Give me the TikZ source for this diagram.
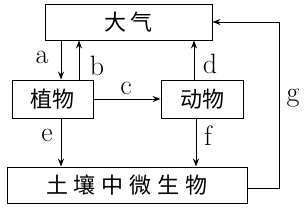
\documentclass[tikz,border=0pt]{standalone}
\usepackage{fontspec}
\newfontfamily\cjk{Noto Sans CJK SC}
\usetikzlibrary{arrows.meta}
\newcommand{\gp}{\hspace{6pt}}
\begin{document}
\begin{tikzpicture}[x=1pt,y=-1pt,
  box/.style={draw,line width=0.9pt,inner sep=0pt,font=\cjk\fontsize{22}{22}\selectfont},
  conn/.style={line width=0.9pt,-{Stealth[length=8pt,width=6pt]}},
  lbl/.style={font=\fontsize{28}{28}\selectfont,inner sep=0pt}]
\useasboundingbox (0,0) rectangle (304,207);
\node[box,minimum width=167pt,minimum height=36pt] (air) at (128.5,22) {大\hspace{4pt}气};
\node[box,minimum width=81pt,minimum height=38pt] (plant) at (52.5,99) {植物};
\node[box,minimum width=82pt,minimum height=38pt] (animal) at (202,99) {动物};
\node[box,minimum width=240pt,minimum height=36pt] (soil) at (127,185) {土\gp 壤\gp 中\gp 微\gp 生\gp 物};
\draw[conn] (air.south -| 61,0) -- (plant.north -| 61,0);
\draw[conn] (plant.north -| 79,0) -- (air.south -| 79,0);
\draw[conn] (plant.east) -- (animal.west);
\draw[conn] (animal.north -| 194,0) -- (air.south -| 194,0);
\draw[conn] (plant.south -| 61,0) -- (soil.north -| 61,0);
\draw[conn] (animal.south -| 196,0) -- (soil.north -| 196,0);
\coordinate (g1) at (279,188);
\coordinate (g2) at (279,22);
\draw[conn] (soil.east |- g1) -- (g1) -- (g2) -- (air.east);
\node[lbl] (la) at (42,57) {a};
\node[lbl] (lb) at (97,66) {b};
\node[lbl] (lc) at (126,88) {c};
\node[lbl] (ld) at (210,64) {d};
\node[lbl] (le) at (47,135) {e};
\node[lbl] (lf) at (208,136) {f};
\node[lbl] (lg) at (293,98) {g};
\end{tikzpicture}
\end{document}
